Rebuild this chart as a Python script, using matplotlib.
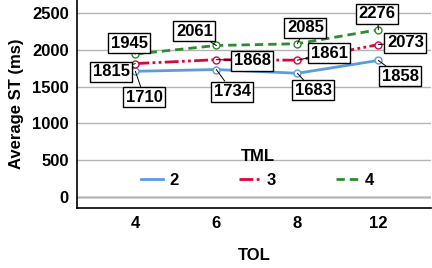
import numpy as np
import matplotlib.pyplot as plt

plt.rcParams['font.family'] = ['Liberation Sans', 'DejaVu Sans']
plt.rcParams['font.weight'] = 'bold'

tol = ['4', '6', '8', '12']
tml = ['2', '3', '4']
st_2 = [1710, 1734, 1683, 1858]
st_3 = [1815, 1868, 1861, 2073]
st_4 = [1945, 2061, 2085, 2276]

# label offsets in pixels (dx, dy) per series, per point
offs_2 = [(9, -26), (16, -22), (16, -17), (22, -16)]
offs_3 = [(-24, -8), (36, -1), (32, 7), (27, 2)]
offs_4 = [(-6, 11), (-22, 14), (8, 16), (-1, 16)]

fs = 12

fig = plt.figure(figsize=(4.32, 2.68), dpi=100)
ax = fig.add_axes([77 / 432, 1 - 208 / 268, 354 / 432, 208 / 268])

x = np.arange(len(tol))
styles = [
    (st_2, '#5b9bdf', '-', offs_2),
    (st_3, '#d9083c', (0, (5, 1.2, 1, 1.2, 1, 1.2)), offs_3),
    (st_4, '#2e8b2e', (0, (3, 1.8)), offs_4),
]
for (vals, col, ls, offs), name in zip(styles, tml):
    ax.plot(x, vals, color=col, ls=ls, lw=2, marker='o', ms=5,
            mfc='white', mec=col, mew=1, label=name, zorder=3)
    for xi, v, (dx, dy) in zip(x, vals, offs):
        ax.annotate(str(v), (xi, v), xytext=(dx, dy), textcoords='offset pixels',
                    ha='center', va='center', fontsize=fs, fontweight='bold',
                    bbox=dict(boxstyle='square,pad=0.15', fc='white', ec='black', lw=1),
                    arrowprops=dict(arrowstyle='-', color='black', lw=0.7,
                                    shrinkA=0, shrinkB=0),
                    zorder=5)

ax.set_xlim(-0.72, 3.65)
ax.set_ylim(-150, 2680)
ax.set_xticks(x)
ax.set_xticklabels(tol)
ax.set_yticks([0, 500, 1000, 1500, 2000, 2500])
ax.tick_params(length=0, labelsize=fs, pad=6)
for lab in ax.get_xticklabels() + ax.get_yticklabels():
    lab.set_fontweight('bold')
ax.yaxis.grid(True, color='#b4b4b4', lw=1)
ax.axhline(0, color='#d4d4d4', lw=2, zorder=0)
ax.set_axisbelow(True)
for s in ['top', 'right']:
    ax.spines[s].set_visible(False)
ax.spines['left'].set_linewidth(1.2)
ax.spines['bottom'].set_linewidth(1.2)

ax.set_ylabel('Average ST (ms)', fontsize=fs, fontweight='bold', labelpad=6)
ax.set_xlabel('TOL', fontsize=fs, fontweight='bold', labelpad=12)

leg = ax.legend(title='TML', ncol=3, frameon=False, loc='center',
                bbox_to_anchor=(0.51, 0.19), fontsize=fs, columnspacing=3.6,
                handlelength=1.3, handletextpad=0.4,
                title_fontproperties={'weight': 'bold', 'size': fs})
for t in leg.get_texts():
    t.set_fontweight('bold')
for h in leg.legend_handles:
    h.set_marker('')

fig.savefig('out.png', dpi=100)
